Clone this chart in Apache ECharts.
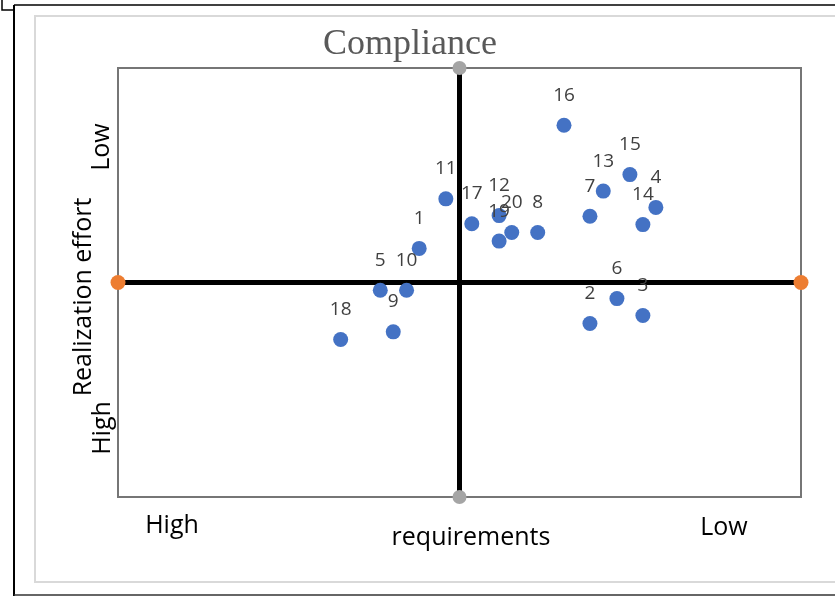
<!DOCTYPE html>
<html>
<head>
<meta charset="utf-8">
<script src="https://cdn.jsdelivr.net/npm/echarts@6/dist/echarts.min.js"></script>
<style>html,body{margin:0;padding:0;background:#fff}#c{width:835px;height:596px}</style>
</head>
<body>
<div id="c"></div>
<script>
const pointLabels = ['1','2','3','4','5','6','7','8','9','10','11','12','13','14','15','16','17','18','19','20'];
const xValues = [-1.18, 3.82, 5.37, 5.75, -2.32, 4.61, 3.82, 2.29, -1.94, -1.55, -0.40, 1.16, 4.21, 5.37, 4.99, 3.06, 0.36, -3.48, 1.16, 1.53];
const yValues = [1.59, -1.91, -1.54, 3.50, -0.36, -0.75, 3.09, 2.33, -2.30, -0.36, 3.90, 3.12, 4.26, 2.70, 5.03, 7.33, 2.74, -2.66, 1.93, 2.33];
const axisMin = -10, axisMax = 10;
const horizontalLine = [[axisMin, 0], [axisMax, 0]];
const verticalLine = [[0, axisMin], [0, axisMax]];
const titleText = 'Compliance';
const xAxisName = 'requirements';
const yAxisName = 'Realization effort';
const lowText = 'Low', highText = 'High';

const chart = echarts.init(document.getElementById('c'), null, {renderer: 'canvas'});
const sans = '"Open Sans", sans-serif';
chart.setOption({
  animation: false,
  grid: {left: 118, top: 68, width: 683, height: 429, show: true, borderColor: '#767676', borderWidth: 2, backgroundColor: 'transparent'},
  xAxis: {type: 'value', min: axisMin, max: axisMax, show: false},
  yAxis: {type: 'value', min: axisMin, max: axisMax, show: false},
  series: [
    {type: 'line', data: horizontalLine, lineStyle: {color: '#000', width: 5}, symbol: 'circle', symbolSize: 15,
     itemStyle: {color: '#ED7D31', opacity: 1}, z: 2},
    {type: 'line', data: verticalLine, lineStyle: {color: '#000', width: 5}, symbol: 'circle', symbolSize: 14,
     itemStyle: {color: '#A5A5A5', opacity: 1}, z: 2},
    {type: 'scatter', data: xValues.map((x, i) => [x, yValues[i], pointLabels[i]]), symbolSize: 15,
     itemStyle: {color: '#4472C4', opacity: 1}, z: 3,
     label: {show: true, position: 'top', distance: 13, formatter: p => p.data[2],
       fontFamily: sans, fontSize: 19, color: '#404040', opacity: 1, lineHeight: 19}}
  ],
  graphic: [
    {type: 'polyline', shape: {points: [[2, 0], [2, 10], [14, 10]]}, style: {stroke: '#000', lineWidth: 1.5, fill: null}},
    {type: 'line', shape: {x1: 14, y1: 5, x2: 14, y2: 596}, style: {stroke: '#000', lineWidth: 2}},
    {type: 'line', shape: {x1: 14, y1: 5, x2: 835, y2: 5}, style: {stroke: '#000', lineWidth: 1.5}},
    {type: 'line', shape: {x1: 14, y1: 595, x2: 835, y2: 595}, style: {stroke: '#333', lineWidth: 1.5}},
    {type: 'rect', shape: {x: 35, y: 16, width: 830, height: 566}, style: {stroke: '#d9d9d9', lineWidth: 2, fill: null}},
    {type: 'text', x: 410, y: 45, style: {text: titleText, font: '36px "Liberation Serif", serif', fill: '#595959', textAlign: 'center', textVerticalAlign: 'middle'}},
    {type: 'text', x: 471, y: 538, style: {text: xAxisName, font: '25px ' + sans, fill: '#000', textAlign: 'center', textVerticalAlign: 'middle'}},
    {type: 'text', x: 172, y: 526, style: {text: highText, font: '25px ' + sans, fill: '#000', textAlign: 'center', textVerticalAlign: 'middle'}},
    {type: 'text', x: 724, y: 528, style: {text: lowText, font: '25px ' + sans, fill: '#000', textAlign: 'center', textVerticalAlign: 'middle'}},
    {type: 'text', x: 84, y: 297, rotation: Math.PI / 2, style: {text: yAxisName, font: '25px ' + sans, fill: '#000', textAlign: 'center', textVerticalAlign: 'middle'}},
    {type: 'text', x: 102, y: 147, rotation: Math.PI / 2, style: {text: lowText, font: '25px ' + sans, fill: '#000', textAlign: 'center', textVerticalAlign: 'middle'}},
    {type: 'text', x: 103, y: 428, rotation: Math.PI / 2, style: {text: highText, font: '25px ' + sans, fill: '#000', textAlign: 'center', textVerticalAlign: 'middle'}}
  ]
});
</script>
</body>
</html>
